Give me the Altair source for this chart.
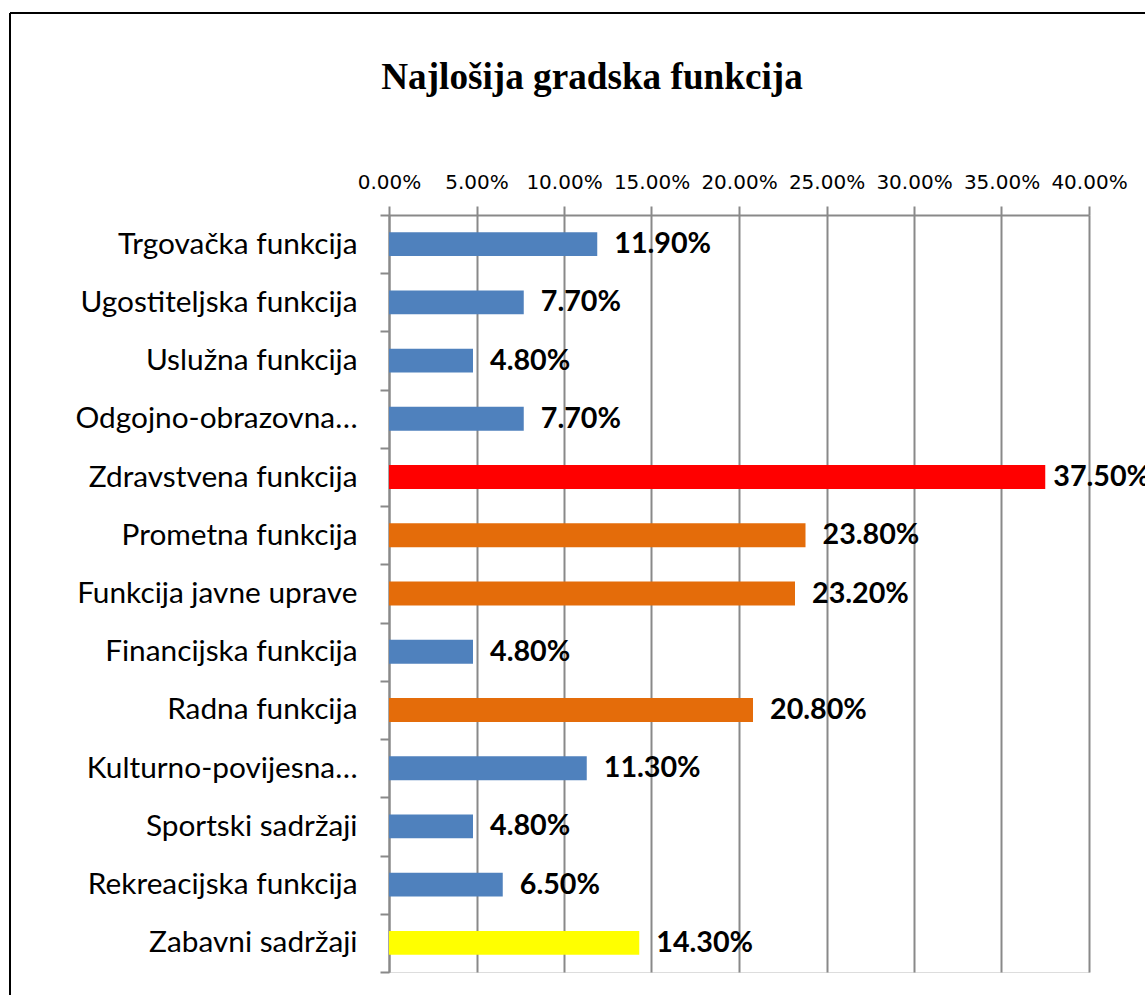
import altair as alt
import pandas as pd

categories = [
    "Trgovačka funkcija", "Ugostiteljska funkcija", "Uslužna funkcija",
    "Odgojno-obrazovna…", "Zdravstvena funkcija", "Prometna funkcija",
    "Funkcija javne uprave", "Financijska funkcija", "Radna funkcija",
    "Kulturno-povijesna…", "Sportski sadržaji", "Rekreacijska funkcija",
    "Zabavni sadržaji",
]
values = [0.119, 0.077, 0.048, 0.077, 0.375, 0.238, 0.232, 0.048, 0.208,
          0.113, 0.048, 0.065, 0.143]
groups = ["plava", "plava", "plava", "plava", "crvena", "narančasta",
          "narančasta", "plava", "narančasta", "plava", "plava", "plava",
          "žuta"]
group_names = ["plava", "crvena", "narančasta", "žuta"]
group_colors = ["#4F81BD", "#FF0000", "#E46C0A", "#FFFF00"]
x_ticks = [0.0, 0.05, 0.10, 0.15, 0.20, 0.25, 0.30, 0.35, 0.40]
title_text = "Najlošija gradska funkcija"

df = pd.DataFrame({"kategorija": categories, "udio": values, "skupina": groups})

GRID = "#898989"

y_enc = alt.Y(
    "kategorija:N", sort=categories, title=None,
    scale=alt.Scale(paddingInner=0, paddingOuter=0),
    axis=alt.Axis(
        tickBand="extent", ticks=True, tickSize=9, tickColor=GRID, tickWidth=2,
        domainColor=GRID, domainWidth=2, grid=False,
        labelFont="Lato", labelFontSize=29.8, labelColor="black",
        labelPadding=23, labelLimit=400,
    ),
)
x_enc = alt.X(
    "udio:Q", title=None,
    scale=alt.Scale(domain=[0, 0.4], nice=False, zero=True),
    axis=alt.Axis(
        orient="top", values=x_ticks, format=".2%", grid=True,
        gridColor=GRID, gridWidth=2, tickSize=9, tickColor=GRID, tickWidth=2,
        domainColor=GRID, domainWidth=2,
        labelFont="DejaVu Sans", labelFontSize=20, labelColor="black",
        labelPadding=14, labelFlush=False, labelOverlap=False,
    ),
)

bars = alt.Chart(df).mark_bar(height={"band": 0.41}).encode(
    y=y_enc, x=x_enc,
    color=alt.Color("skupina:N",
                    scale=alt.Scale(domain=group_names, range=group_colors),
                    legend=None),
)

label_style = dict(align="left", baseline="middle", font="Lato",
                   fontWeight="bold", fontSize=28.7, color="black")
label_enc = dict(
    y=alt.Y("kategorija:N", sort=categories),
    x=alt.X("udio:Q"),
    text=alt.Text("udio:Q", format=".2%"),
)
labels = alt.Chart(df).transform_filter("datum.udio < 0.35").mark_text(
    dx=17, **label_style).encode(**label_enc)
labels_edge = alt.Chart(df).transform_filter("datum.udio >= 0.35").mark_text(
    dx=8, **label_style).encode(**label_enc)

one = pd.DataFrame({"k": [0]})
border_left = alt.Chart(one).mark_rule(color="black", strokeWidth=2).encode(
    x=alt.value(-379), y=alt.value(-202), y2=alt.value(1000))
border_top = alt.Chart(one).mark_rule(color="black", strokeWidth=2).encode(
    x=alt.value(-379), x2=alt.value(1200), y=alt.value(-202))

chart = alt.layer(bars, labels, labels_edge, border_left, border_top).properties(
    width=700, height=757,
    title=alt.TitleParams(
        title_text, font="Liberation Serif", fontSize=37.2, fontWeight="bold",
        color="black", anchor="middle", frame="group", dx=-147, offset=-85,
    ),
    autosize=alt.AutoSizeParams(type="none"),
    padding={"left": 389, "top": 215, "right": 56, "bottom": 23},
).configure_view(stroke=None).configure(background="white")

chart.save("out.html", embed_options={"renderer": "svg", "actions": False})
